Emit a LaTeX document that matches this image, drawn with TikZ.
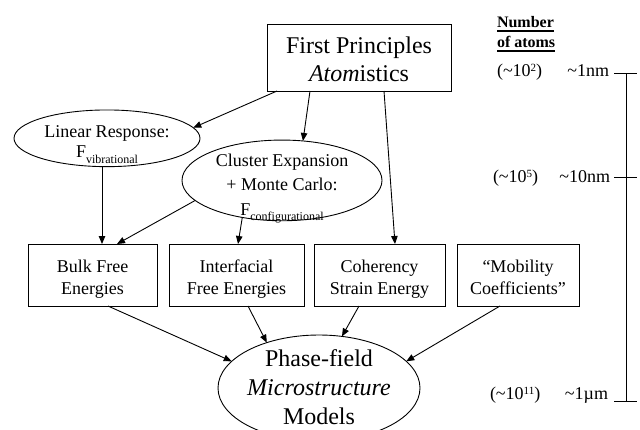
\documentclass[tikz,border=0pt]{standalone}
\usepackage{fontspec}
\setmainfont{Liberation Serif}
\usetikzlibrary{shapes.geometric,arrows.meta}
\newcommand{\ulbold}[1]{\setbox0=\hbox{#1}\rlap{\rule[-4pt]{\wd0}{1.8pt}}\box0}
\begin{document}
\begin{tikzpicture}[x=1pt,y=-1pt,
  every node/.style={inner sep=0pt, outer sep=0pt},
  lw/.style={line width=0.9pt},
  boxnode/.style={draw, line width=0.9pt, rectangle, align=center, font=\fontsize{18}{21.7}\selectfont},
  ell/.style={draw, line width=0.9pt, ellipse},
  txt/.style={align=center},
  conn/.style={line width=0.9pt, -{Triangle[length=8pt,width=6.5pt]}},
  scl/.style={font=\fontsize{18}{21.6}\selectfont},
  hdr/.style={anchor=base west, font=\fontsize{16}{16}\selectfont\bfseries},
]
\useasboundingbox (0,0) rectangle (640,429);

% top box
\node[boxnode, minimum width=184pt, minimum height=67pt, font=\fontsize{24}{28.4}\selectfont] (top) at (359,57.5)
  {\rule{0pt}{21pt}First Principles\\\textit{Atom}istics\rule[-1pt]{0pt}{1pt}};

% ellipses
\node[ell, minimum width=186pt, minimum height=56.7pt] (lin) at (107,138.3) {};
\node[txt, font=\fontsize{18}{20}\selectfont] (lin-t) at (lin.center)
  {\rule{0pt}{25pt}Linear Response:\\F\raisebox{-6.5pt}{\fontsize{12}{12}\selectfont vibrational}\rule[-7pt]{0pt}{7pt}};

\node[ell, minimum width=200pt, minimum height=80.7pt] (clu) at (282,180.4) {};
\node[txt, font=\fontsize{18}{24.2}\selectfont] (clu-t) at (clu.center)
  {\rule{0pt}{29.8pt}Cluster Expansion\\+ Monte Carlo:\\F\raisebox{-5.7pt}{\fontsize{12}{12}\selectfont configurational}\rule[-9pt]{0pt}{9pt}};

% row boxes
\node[boxnode, minimum width=129pt, minimum height=62pt] (bulk) at (92.5,275)
  {\rule{0pt}{21.3pt}Bulk Free\\Energies\rule[-5pt]{0pt}{5pt}};
\node[boxnode, minimum width=135pt, minimum height=62pt] (int) at (236.5,275)
  {\rule{0pt}{21.3pt}Interfacial\\Free Energies\rule[-5pt]{0pt}{5pt}};
\node[boxnode, minimum width=131pt, minimum height=62pt] (coh) at (379.5,275)
  {\rule{0pt}{21.3pt}Coherency\\Strain Energy\rule[-5pt]{0pt}{5pt}};
\node[boxnode, minimum width=122pt, minimum height=62pt] (mob) at (518,275)
  {\rule{0pt}{21.3pt}“Mobility\\Coefficients”\rule[-5pt]{0pt}{5pt}};

% phase-field ellipse
\node[ell, minimum width=202pt, minimum height=106pt] (phase) at (319,388) {};
\node[txt, font=\fontsize{24}{29}\selectfont] (phase-t) at (phase.center)
  {\rule{0pt}{20pt}Phase-field\\\textit{Microstructure}\\Models\rule[-6pt]{0pt}{6pt}};

% connectors
\draw[conn] ([xshift=10pt]top.south west) -- (lin.7);
\draw[conn] ([xshift=-49pt]top.south) -- (clu.62);
\draw[conn] ([xshift=25pt]top.south) -- ([xshift=15.5pt]coh.north);
\draw[conn] ([xshift=-5pt]lin.south) -- ([xshift=9.5pt]bulk.north);
\draw[conn] (clu.193) -- ([xshift=24.5pt]bulk.north);
\draw[conn] (clu.223) -- ([xshift=1.5pt]int.north);
\draw[conn] ([xshift=15.5pt]bulk.south) -- (phase.163);
\draw[conn] ([xshift=11.5pt]int.south) -- (phase.139);
\draw[conn] ([xshift=-20.5pt]coh.south) -- (phase.66);
\draw[conn] ([xshift=-18pt]mob.south) -- (phase.17);

% scale header
\node[hdr] (hdr1) at (497,27.7) {\ulbold{Number}};
\node[hdr] (hdr2) at (497,47.7) {\ulbold{of atoms}};

% scale labels
\node[scl, anchor=base west] (a1) at (497,76) {(\textasciitilde 10\raisebox{5pt}{\fontsize{11}{11}\selectfont 2})};
\node[scl, anchor=base east] (l1) at (609,76) {\textasciitilde 1nm};
\node[scl, anchor=base west] (a2) at (493,182) {(\textasciitilde 10\raisebox{5pt}{\fontsize{11}{11}\selectfont 5})};
\node[scl, anchor=base east] (l2) at (610,182) {\textasciitilde 10nm};
\node[scl, anchor=base west] (a3) at (490,399) {(\textasciitilde 10\raisebox{5pt}{\fontsize{11}{11}\selectfont 11})};
\node[scl, anchor=base east] (l3) at (608,399) {\textasciitilde 1µm};

% scale bar
\coordinate (t1) at (626,73);
\coordinate (t2) at (626,177);
\coordinate (t3) at (626,401);
\draw[lw] (t1) -- (t3);
\draw[lw] ([xshift=-12pt]t1) -- ([xshift=11pt]t1);
\draw[lw] ([xshift=-12pt]t2) -- ([xshift=11pt]t2);
\draw[lw] ([xshift=-12pt]t3) -- ([xshift=11pt]t3);
\end{tikzpicture}
\end{document}
